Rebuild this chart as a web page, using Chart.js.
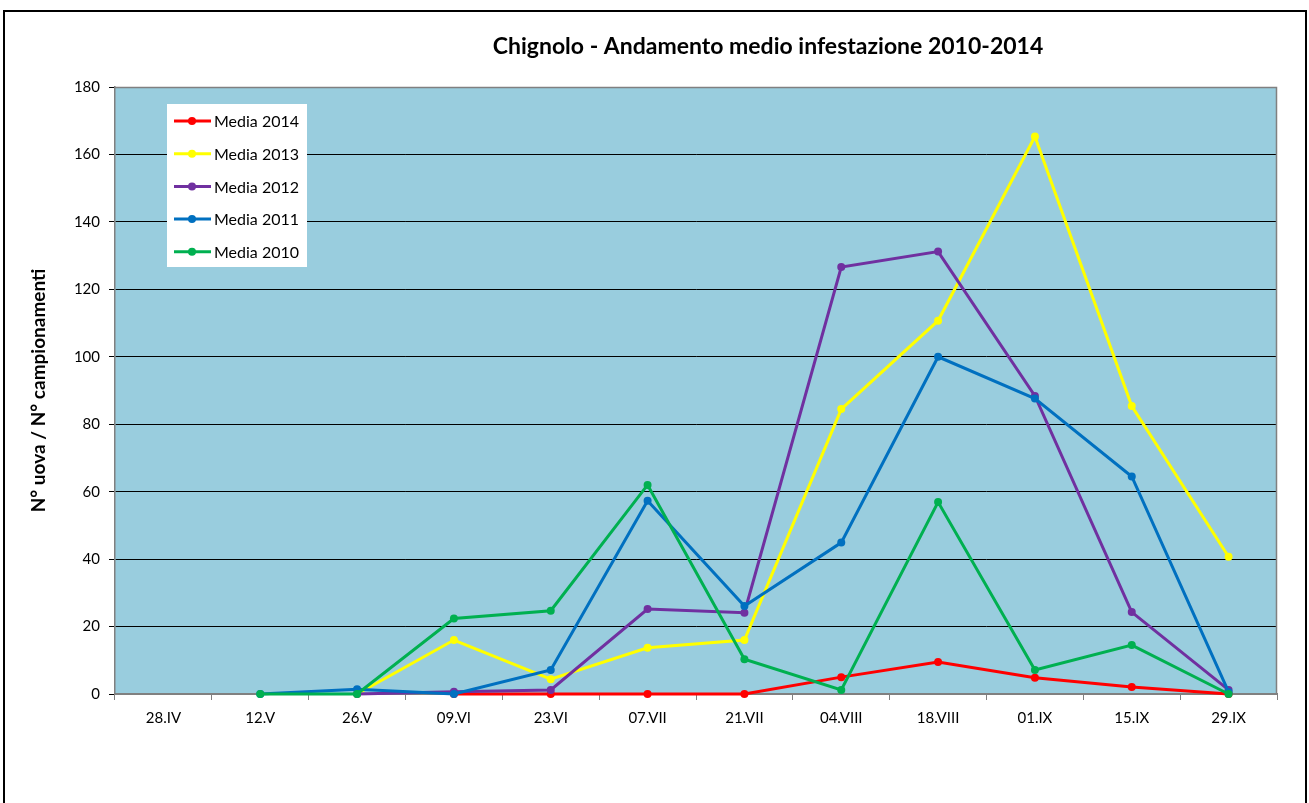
<!DOCTYPE html>
<html>
<head>
<meta charset="utf-8">
<script src="https://cdn.jsdelivr.net/npm/chart.js@4/dist/chart.umd.min.js"></script>
<style>
  html, body { margin: 0; padding: 0; background: #fff; }
  #wrap { position: relative; width: 1309px; height: 803px; overflow: hidden; }
  #frame { position: absolute; left: 3px; top: 10px; width: 1300px; height: 820px; border: 2px solid #000; pointer-events: none; }
</style>
</head>
<body>
<div id="wrap">
  <canvas id="c" width="1309" height="803"></canvas>
  <div id="frame"></div>
</div>
<script>
const chartTitle = 'Chignolo - Andamento medio infestazione 2010-2014';
const yAxisTitle = 'N° uova / N° campionamenti';
const categories = ['28.IV', '12.V', '26.V', '09.VI', '23.VI', '07.VII', '21.VII', '04.VIII', '18.VIII', '01.IX', '15.IX', '29.IX'];
const seriesNames = ['Media 2014', 'Media 2013', 'Media 2012', 'Media 2011', 'Media 2010'];
const media2014 = [null, null, null, 0, 0, 0, 0, 5, 9.5, 4.8, 2.1, 0];
const media2013 = [null, null, 0, 16, 4.4, 13.7, 16, 84.5, 110.7, 165.3, 85.4, 40.7];
const media2012 = [null, null, 0, 0.7, 1.2, 25.2, 24.1, 126.6, 131.2, 88.4, 24.3, 1.2];
const media2011 = [null, 0, 1.4, 0, 7.1, 57.3, 26.1, 44.9, 100, 87.6, 64.5, 0.6];
const media2010 = [null, 0, 0, 22.4, 24.7, 62, 10.3, 1.2, 56.9, 7.1, 14.5, 0];
const yTicks = [0, 20, 40, 60, 80, 100, 120, 140, 160, 180];

const colors = ['#FF0000', '#FFFF00', '#7030A0', '#0070C0', '#00B050'];
const seriesData = [media2014, media2013, media2012, media2011, media2010];

const datasets = seriesNames.map((name, i) => ({
  label: name,
  data: seriesData[i],
  borderColor: colors[i],
  backgroundColor: colors[i],
  borderWidth: 3,
  pointRadius: 4,
  pointHoverRadius: 4,
  pointBorderWidth: 0,
  tension: 0,
  spanGaps: false,
  clip: false,
  order: 5 - i
}));

const FONT = 'Lato, "Open Sans", sans-serif';

const plotBg = {
  id: 'plotBg',
  beforeDraw(chart) {
    const {ctx, chartArea: a} = chart;
    ctx.save();
    ctx.fillStyle = '#99CDDE';
    ctx.fillRect(a.left, a.top, a.right - a.left, a.bottom - a.top);
    ctx.restore();
  },
  beforeDatasetsDraw(chart) {
    const {ctx, chartArea: a} = chart;
    ctx.save();
    ctx.strokeStyle = '#808080';
    ctx.lineWidth = 1.5;
    ctx.beginPath();
    ctx.moveTo(a.left, a.top + 0.5);
    ctx.lineTo(a.right - 0.5, a.top + 0.5);
    ctx.lineTo(a.right - 0.5, a.bottom);
    ctx.stroke();
    ctx.restore();
  }
};

const titleText = {
  id: 'titleText',
  afterDraw(chart) {
    const {ctx} = chart;
    ctx.save();
    ctx.fillStyle = '#000';
    ctx.font = 'bold 23px ' + FONT;
    ctx.textAlign = 'center';
    ctx.textBaseline = 'middle';
    ctx.fillText(chartTitle, 768, 47);
    ctx.restore();
  }
};

const boxLegend = {
  id: 'boxLegend',
  afterDraw(chart) {
    const {ctx, chartArea: a} = chart;
    const x0 = a.left + 52, y0 = a.top + 17, w = 140, h = 163;
    ctx.save();
    ctx.fillStyle = '#FFFFFF';
    ctx.fillRect(x0, y0, w, h);
    chart.data.datasets.forEach((ds, i) => {
      const y = y0 + 17 + i * 32.7;
      ctx.strokeStyle = ds.borderColor;
      ctx.lineWidth = 3;
      ctx.beginPath();
      ctx.moveTo(x0 + 7, y);
      ctx.lineTo(x0 + 44, y);
      ctx.stroke();
      ctx.fillStyle = ds.borderColor;
      ctx.beginPath();
      ctx.arc(x0 + 25, y, 4, 0, Math.PI * 2);
      ctx.fill();
      ctx.fillStyle = '#000';
      ctx.font = '16px ' + FONT;
      ctx.textBaseline = 'middle';
      ctx.textAlign = 'left';
      ctx.fillText(ds.label, x0 + 47, y + 1);
    });
    ctx.restore();
  }
};

new Chart(document.getElementById('c'), {
  type: 'line',
  data: { labels: categories, datasets: datasets },
  plugins: [plotBg, boxLegend, titleText],
  options: {
    responsive: false,
    animation: false,
    events: [],
    layout: { padding: { left: 0, right: 32, top: 87, bottom: 0 } },
    plugins: {
      legend: { display: false },
      tooltip: { enabled: false },
      title: { display: false }
    },
    scales: {
      x: {
        type: 'category',
        offset: true,
        grid: { display: true, drawOnChartArea: false, drawTicks: true, tickLength: 6, color: '#808080', offset: true },
        border: { display: true, color: '#808080', width: 2 },
        ticks: { color: '#000', font: { family: FONT, size: 15 }, padding: 9, maxRotation: 0, autoSkip: false },
        afterFit(s) { s.height = 109; }
      },
      y: {
        min: 0,
        max: 180,
        afterBuildTicks(s) { s.ticks = yTicks.map(v => ({ value: v })); },
        grid: { color: '#000', lineWidth: 1, tickLength: 6, drawTicks: true },
        border: { display: true, color: '#808080', width: 1.5 },
        ticks: { color: '#000', font: { family: FONT, size: 15 }, padding: 9 },
        title: {
          display: true,
          text: yAxisTitle,
          color: '#000',
          font: { family: FONT, size: 19, weight: 'bold', lineHeight: 1.2 },
          padding: { top: 27, bottom: 0 }
        },
        afterFit(s) { s.width = 115; }
      }
    }
  }
});
</script>
</body>
</html>
